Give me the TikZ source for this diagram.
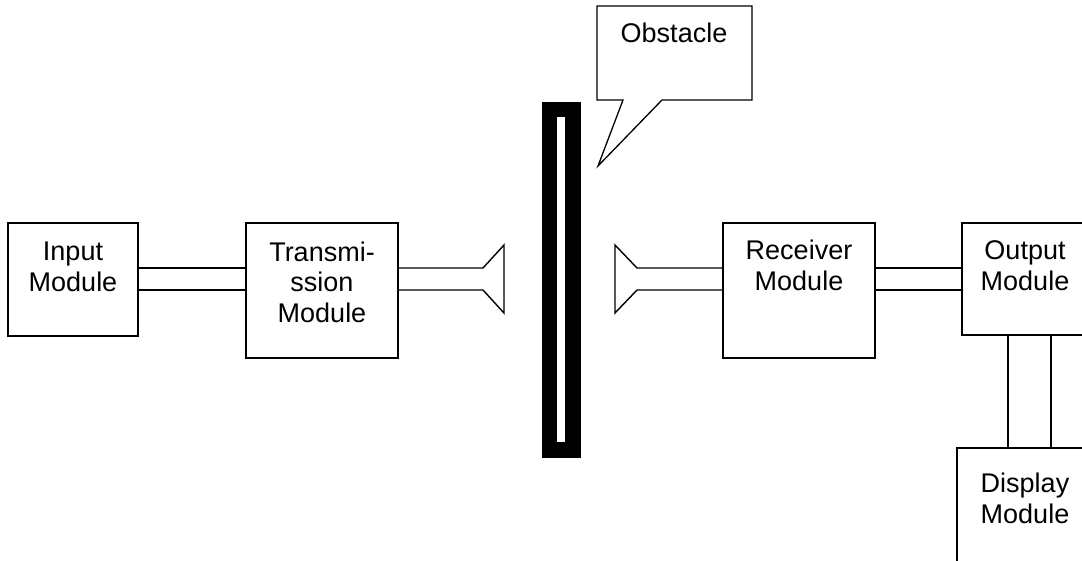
\documentclass[tikz,border=0pt]{standalone}
\usepackage{fontspec}
\setmainfont{Liberation Sans}
\begin{document}
\begin{tikzpicture}[x=1pt,y=-1pt,
  box/.style={draw, line width=1.5pt, inner sep=0pt, outer sep=0pt, anchor=north west},
  lbl/.style={align=center, inner sep=0pt, anchor=base, font=\fontsize{27}{30.5}\selectfont},
  wire/.style={line width=1.4pt, line join=miter}]
\useasboundingbox (0,0) rectangle (1082,560);
\clip (0,0) rectangle (1082,560);
% reference levels of the double lines
\coordinate (l1) at (0,268);
\coordinate (l2) at (0,290);
% boxes
\node[box, minimum width=130pt, minimum height=113pt] (in) at (8,223) {};
\node[box, minimum width=152pt, minimum height=135pt] (tx) at (246,223) {};
\node[box, minimum width=152pt, minimum height=135pt] (rx) at (723,223) {};
\node[box, minimum width=126pt, minimum height=112pt] (out) at (962,223) {};
\node[box, minimum width=136pt, minimum height=132pt] (disp) at (957,448) {};
% texts (anchored at the baseline of the last line)
\node[lbl] (tin) at (73,291) {Input\\Module};
\node[lbl] (ttx) at (322,322) {Transmi-\\ssion\\Module};
\node[lbl] (trx) at (799,290) {Receiver\\Module};
\node[lbl] (tout) at (1025,290) {Output\\Module};
\node[lbl] (tdisp) at (1025,523) {Display\\Module};
% obstacle
\node[fill=black, draw=black, line width=0.5pt, inner sep=0pt, outer sep=0pt, anchor=north west,
      minimum width=38pt, minimum height=355pt] (obs) at (542,102) {};
\node[fill=white, inner sep=0pt, outer sep=0pt, anchor=north west,
      minimum width=8pt, minimum height=325pt] (slot) at (557,117) {};
% callout
\coordinate (ptip) at (598,166);
\draw[wire, line width=1.3pt] (597,6) -- (752,6) -- (752,100) -- (662,100) -- (ptip) -- (623,100) -- (597,100) -- cycle;
\node[lbl] (callout) at (674,42) {Obstacle};
% horns
\coordinate (hL1) at (483,268);
\coordinate (hL2) at (483,290);
\coordinate (hR1) at (637,268);
\coordinate (hR2) at (637,290);
% connectors
\draw[wire] (in.east |- l1) -- (tx.west |- l1);
\draw[wire] (in.east |- l2) -- (tx.west |- l2);
\draw[wire] (tx.east |- l1) -- (hL1) -- (504,245) -- (504,313) -- (hL2) -- (tx.east |- l2);
\draw[wire] (rx.west |- l1) -- (hR1) -- (615,245) -- (615,313) -- (hR2) -- (rx.west |- l2);
\draw[wire] (rx.east |- l1) -- (out.west |- l1);
\draw[wire] (rx.east |- l2) -- (out.west |- l2);
\coordinate (c1) at (1008,0);
\coordinate (c2) at (1051,0);
\draw[wire] (out.south -| c1) -- (disp.north -| c1);
\draw[wire] (out.south -| c2) -- (disp.north -| c2);
\end{tikzpicture}
\end{document}
